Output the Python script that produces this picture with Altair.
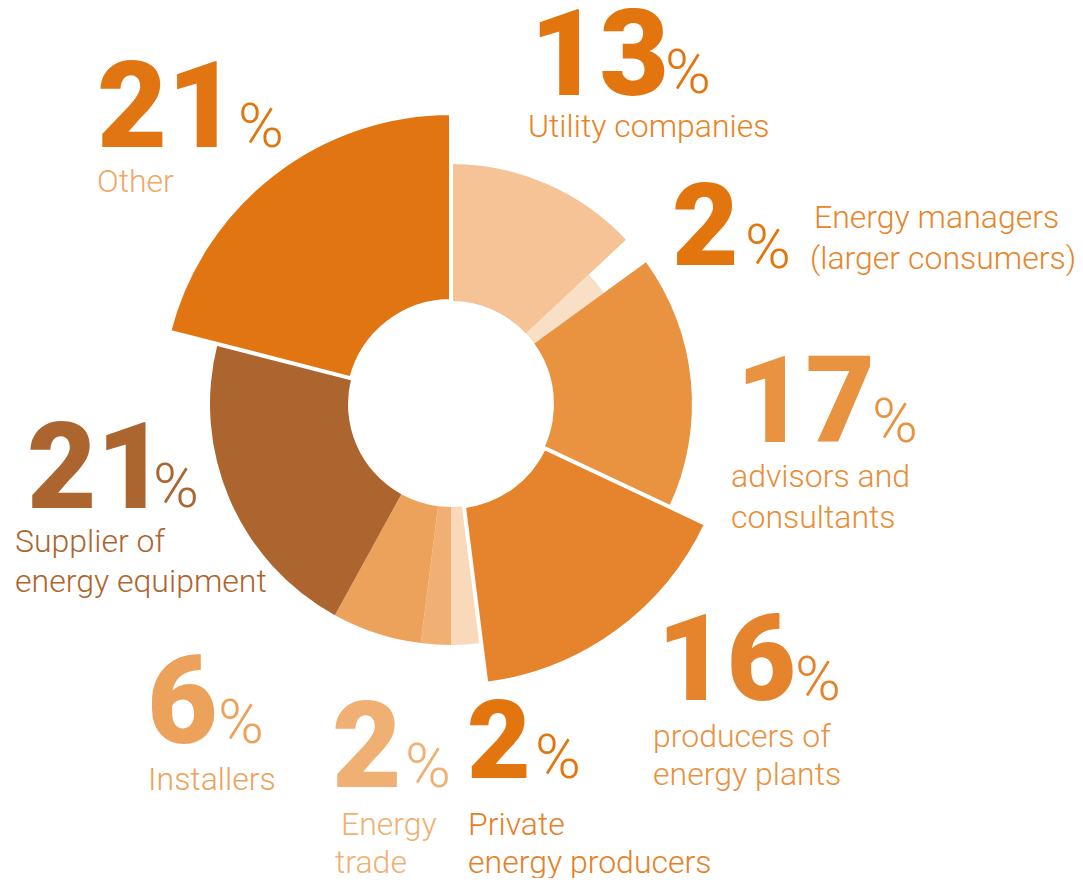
import altair as alt
import pandas as pd

# ---- data ----
categories = ["Utility companies", "Energy managers (larger consumers)",
              "advisors and consultants", "producers of energy plants",
              "Private energy producers", "Energy trade", "Installers",
              "Supplier of energy equipment", "Other"]
shares = [13, 2, 17, 16, 2, 2, 6, 21, 21]
label_lines = [["Utility companies"], ["Energy managers", "(larger consumers)"],
               ["advisors and", "consultants"], ["producers of", "energy plants"],
               ["Private", "energy producers"], ["Energy", "trade"], ["Installers"],
               ["Supplier of", "energy equipment"], ["Other"]]

# ---- styles ----
fill_colors = ["#F5C396", "#F9DFC6", "#E99340", "#E6842D", "#F9D9BA",
               "#F0B073", "#EDA25C", "#AC652E", "#E07512"]
outer_r = [240, 189, 241, 282, 241, 241, 241, 241, 291]
edge_w = [0, 0, 0, 4, 0, 0, 0, 0, 4]
num_colors = ["#E3750F", "#E3750F", "#E99340", "#E6842D", "#E3750F",
              "#F0B073", "#EDA25C", "#AC652E", "#E07512"]
lab_colors = ["#E8831F", "#E8852A", "#E98D36", "#E9913E", "#E58026",
              "#F0B073", "#EDA25C", "#AC652E", "#F0A868"]
M = 8  # page margin
CX, CY = 451 - M, 404 - M
INNER = 103
# layout (page coords): number (x, baseline, size), percent (x, baseline), label lines [(x, baseline)]
num_pos = [(530, 95, 120), (672, 265, 115), (736, 442, 120), (657, 700, 120),
           (467, 778, 110), (332, 787, 120), (147, 743, 122), (27, 508, 120),
           (97, 147, 121)]
pct_pos = [(665, 93), (745, 268), (872, 442), (795, 700), (535, 778),
           (405, 787), (218, 743), (153, 507), (238, 147)]
lab_pos = [[(528, 137)], [(814, 228), (810, 269)], [(731, 487), (731, 528)],
           [(653, 747), (653, 785)], [(468, 835), (468, 873)],
           [(341, 835), (335, 873)], [(148, 790)], [(15, 552), (15, 592)],
           [(97, 192)]]

df = pd.DataFrame({"cat": categories, "share": shares, "idx": list(range(len(categories))),
                   "r": outer_r, "edge": edge_w})

num_rows, pct_rows, lab_rows = [], [], []
for i, s in enumerate(shares):
    x, y, fs = num_pos[i]
    num_rows.append({"t": str(s), "x": x - M, "y": y - M, "s": fs, "c": num_colors[i]})
    px, py = pct_pos[i]
    pct_rows.append({"t": "%", "x": px - M, "y": py - M, "s": 62, "c": num_colors[i]})
    for line, (lx, ly) in zip(label_lines[i], lab_pos[i]):
        lab_rows.append({"t": line, "x": lx - M, "y": ly - M, "s": 32, "c": lab_colors[i]})

base = alt.Chart(df).transform_joinaggregate(
    total="sum(share)"
).transform_window(
    cum="sum(share)", sort=[alt.SortField("idx", order="ascending")],
    frame=[None, 0]
).transform_calculate(
    t0="2 * PI * (datum.cum - datum.share) / datum.total",
    t1="2 * PI * datum.cum / datum.total",
).encode(
    theta=alt.Theta("t0:Q", scale=None),
    theta2=alt.Theta2("t1:Q"),
    radius=alt.Radius("r:Q", scale=None),
    x=alt.value(CX), y=alt.value(CY),
)
arcs = base.mark_arc(innerRadius=INNER).encode(
    color=alt.Color("cat:N", scale=alt.Scale(domain=categories, range=fill_colors), legend=None)
)
edges = base.mark_arc(innerRadius=INNER, fillOpacity=0, stroke="white").encode(
    strokeWidth=alt.StrokeWidth("edge:Q", scale=None)
)

def text_layer(rows, weight):
    return alt.Chart(pd.DataFrame(rows)).mark_text(
        font="Roboto", fontWeight=weight, align="left", baseline="alphabetic"
    ).encode(
        x=alt.X("x:Q", scale=None, axis=None),
        y=alt.Y("y:Q", scale=None, axis=None),
        text="t:N",
        color=alt.Color("c:N", scale=None),
        size=alt.Size("s:Q", scale=None),
    )

chart = alt.layer(
    arcs, edges,
    text_layer(num_rows, 900),
    text_layer(pct_rows, 300),
    text_layer(lab_rows, 300),
).properties(width=1067, height=870, autosize="none", padding=0).configure_view(stroke=None)

chart.save("out.html", embed_options={"renderer": "svg", "actions": False})
